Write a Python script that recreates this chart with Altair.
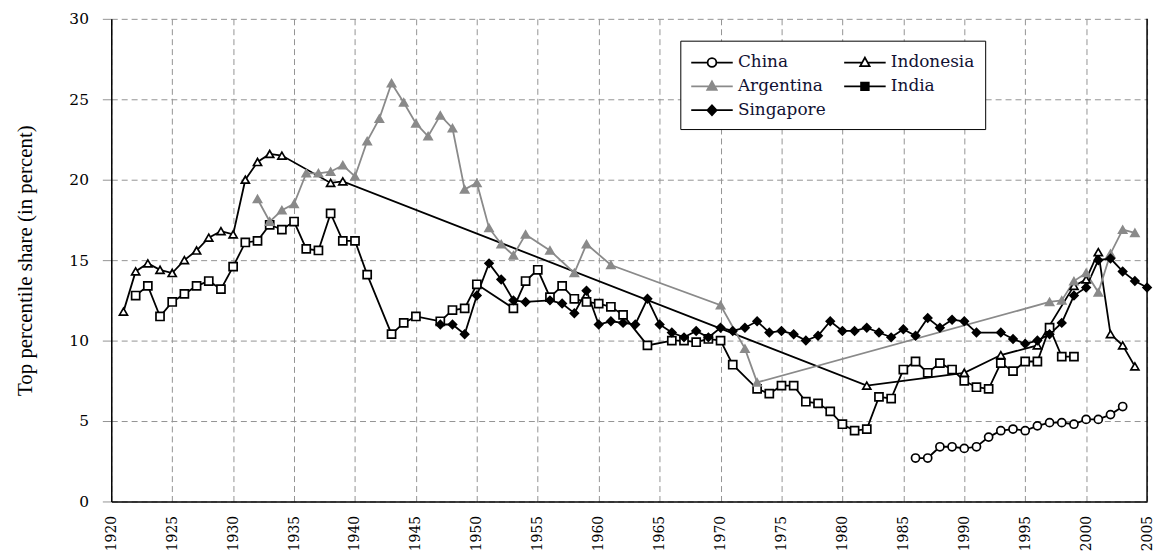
import altair as alt
import pandas as pd

# legend order: column 1 = China, Argentina, Singapore; column 2 = Indonesia, India
countries = ["China", "Argentina", "Singapore", "Indonesia", "India"]

china_years = [1986, 1987, 1988, 1989, 1990, 1991, 1992, 1993, 1994, 1995, 1996, 1997, 1998, 1999, 2000, 2001, 2002, 2003]
china_share = [2.7, 2.7, 3.4, 3.4, 3.3, 3.4, 4.0, 4.4, 4.5, 4.4, 4.7, 4.9, 4.9, 4.8, 5.1, 5.1, 5.4, 5.9]

indonesia_years = [1921, 1922, 1923, 1924, 1925, 1926, 1927, 1928, 1929, 1930, 1931, 1932, 1933, 1934,
                   1938, 1939, 1982, 1990, 1993, 1996, 1999, 2000, 2001, 2002, 2003, 2004]
indonesia_share = [11.8, 14.3, 14.8, 14.4, 14.2, 15.0, 15.6, 16.4, 16.8, 16.6, 20.0, 21.1, 21.6, 21.5,
                   19.8, 19.9, 7.2, 8.0, 9.1, 9.7, 13.4, 13.8, 15.5, 10.4, 9.7, 8.4]

argentina_years = [1932, 1933, 1934, 1935, 1936, 1937, 1938, 1939, 1940, 1941, 1942, 1943, 1944, 1945,
                   1946, 1947, 1948, 1949, 1950, 1951, 1952, 1953, 1954, 1956, 1958, 1959, 1961,
                   1970, 1972, 1973, 1997, 1998, 1999, 2000, 2001, 2002, 2003, 2004]
argentina_share = [18.8, 17.4, 18.1, 18.5, 20.4, 20.4, 20.5, 20.9, 20.2, 22.4, 23.8, 26.0, 24.8, 23.5,
                   22.7, 24.0, 23.2, 19.4, 19.8, 17.0, 16.0, 15.3, 16.6, 15.6, 14.2, 16.0, 14.7,
                   12.2, 9.5, 7.4, 12.4, 12.5, 13.7, 14.2, 13.0, 15.4, 16.9, 16.7]

india_years = [1922, 1923, 1924, 1925, 1926, 1927, 1928, 1929, 1930, 1931, 1932, 1933, 1934, 1935,
               1936, 1937, 1938, 1939, 1940, 1941, 1943, 1944, 1945, 1947, 1948, 1949, 1950, 1953,
               1954, 1955, 1956, 1957, 1958, 1959, 1960, 1961, 1962, 1964, 1966, 1967, 1968, 1969,
               1970, 1971, 1973, 1974, 1975, 1976, 1977, 1978, 1979, 1980, 1981, 1982, 1983, 1984,
               1985, 1986, 1987, 1988, 1989, 1990, 1991, 1992, 1993, 1994, 1995, 1996, 1997, 1998, 1999]
india_share = [12.8, 13.4, 11.5, 12.4, 12.9, 13.4, 13.7, 13.2, 14.6, 16.1, 16.2, 17.2, 16.9, 17.4,
               15.7, 15.6, 17.9, 16.2, 16.2, 14.1, 10.4, 11.1, 11.5, 11.2, 11.9, 12.0, 13.5, 12.0,
               13.7, 14.4, 12.7, 13.4, 12.6, 12.4, 12.3, 12.1, 11.6, 9.7, 10.0, 10.0, 9.9, 10.1,
               10.0, 8.5, 7.0, 6.7, 7.2, 7.2, 6.2, 6.1, 5.6, 4.8, 4.4, 4.5, 6.5, 6.4,
               8.2, 8.7, 8.0, 8.6, 8.2, 7.5, 7.1, 7.0, 8.6, 8.1, 8.7, 8.7, 10.8, 9.0, 9.0]

singapore_years = [1947, 1948, 1949, 1950, 1951, 1952, 1953, 1954, 1956, 1957, 1958, 1959, 1960, 1961,
                   1962, 1963, 1964, 1965, 1966, 1967, 1968, 1969, 1970, 1971, 1972, 1973, 1974, 1975,
                   1976, 1977, 1978, 1979, 1980, 1981, 1982, 1983, 1984, 1985, 1986, 1987, 1988, 1989,
                   1990, 1991, 1993, 1994, 1995, 1996, 1997, 1998, 1999, 2000, 2001, 2002, 2003, 2004, 2005]
singapore_share = [11.0, 11.0, 10.4, 12.8, 14.8, 13.8, 12.5, 12.4, 12.5, 12.3, 11.7, 13.1, 11.0, 11.2,
                   11.1, 11.0, 12.6, 11.0, 10.5, 10.2, 10.6, 10.2, 10.8, 10.6, 10.8, 11.2, 10.5, 10.6,
                   10.4, 10.0, 10.3, 11.2, 10.6, 10.6, 10.8, 10.5, 10.2, 10.7, 10.3, 11.4, 10.8, 11.3,
                   11.2, 10.5, 10.5, 10.1, 9.8, 10.0, 10.4, 11.1, 12.8, 13.3, 15.0, 15.1, 14.3, 13.7, 13.3]

x_ticks = [1920, 1925, 1930, 1935, 1940, 1945, 1950, 1955, 1960, 1965, 1970, 1975, 1980, 1985, 1990, 1995, 2000, 2005]
y_ticks = [0, 5, 10, 15, 20, 25, 30]

series = [
    ("Indonesia", indonesia_years, indonesia_share),
    ("India", india_years, india_share),
    ("Argentina", argentina_years, argentina_share),
    ("Singapore", singapore_years, singapore_share),
    ("China", china_years, china_share),
]
df = pd.concat(
    [pd.DataFrame({"country": n, "year": y, "share": v}) for n, y, v in series],
    ignore_index=True,
)

GRAY = "#8a8a8a"
# order follows `countries`: China, Argentina, Singapore, Indonesia, India
line_colors = ["#000000", GRAY, "#000000", "#000000", "#000000"]
chart_fills = ["#ffffff", GRAY, "#000000", "#ffffff", "#ffffff"]
legend_fills = ["#ffffff", GRAY, "#000000", "#ffffff", "#000000"]
chart_shapes = ["circle", "triangle-up", "diamond", "triangle-up", "square"]

tri_path = "M-1,0L0.66,0M1.14,0L2.8,0M0.9,-0.45L1.33,0.33L0.47,0.33Z"
legend_shapes = [
    "M-1,0L0.5,0M1.3,0L2.8,0M0.5,0A0.4,0.4 0 1,1 1.3,0A0.4,0.4 0 1,1 0.5,0Z",
    tri_path,
    "M-1,0L0.48,0M1.32,0L2.8,0M0.9,-0.45L1.32,0L0.9,0.45L0.48,0Z",
    tri_path,
    "M-1,0L0.55,0M1.25,0L2.8,0M0.55,-0.35L1.25,-0.35L1.25,0.35L0.55,0.35Z",
]

x_enc = alt.X(
    "year:Q",
    scale=alt.Scale(domain=[1920, 2005], nice=False, zero=False),
    axis=alt.Axis(values=x_ticks, format="d", labelAngle=270, title=None,
                  ticks=False, labelPadding=14, labelFontSize=14),
)
y_enc = alt.Y(
    "share:Q",
    scale=alt.Scale(domain=[0, 30], nice=False),
    axis=alt.Axis(values=y_ticks, title="Top percentile share (in percent)",
                  tickSize=9, labelPadding=14, titlePadding=34, labelFontSize=15.5),
)

base = alt.Chart(df)

lines = base.mark_line(strokeWidth=1.8).encode(
    x=x_enc,
    y=y_enc,
    stroke=alt.Stroke("country:N", scale=alt.Scale(domain=countries, range=line_colors), legend=None),
)

points = base.mark_point(opacity=1, strokeWidth=1.7, size=66).encode(
    x=x_enc,
    y=y_enc,
    shape=alt.Shape("country:N", scale=alt.Scale(domain=countries, range=chart_shapes), legend=None),
    fill=alt.Fill("country:N", scale=alt.Scale(domain=countries, range=chart_fills), legend=None),
    stroke=alt.Stroke("country:N", scale=alt.Scale(domain=countries, range=line_colors), legend=None),
)

leg = alt.Legend(
    title=None, orient="none", legendX=573, legendY=22, columns=2,
    symbolSize=484, symbolStrokeWidth=1.8, labelFont="DejaVu Serif", labelFontSize=17,
    labelColor="#111133", labelOffset=24, padding=10, rowPadding=4, columnPadding=14,
    strokeColor="black", fillColor="white", labelLimit=300,
)

legend_layer = base.transform_filter("datum.share < 0").mark_point(opacity=1, strokeWidth=1.8).encode(
    x=x_enc,
    y=y_enc,
    shape=alt.Shape("country:N", scale=alt.Scale(domain=countries, range=legend_shapes), legend=leg),
    fill=alt.Fill("country:N", scale=alt.Scale(domain=countries, range=legend_fills), legend=leg),
    stroke=alt.Stroke("country:N", scale=alt.Scale(domain=countries, range=line_colors), legend=leg),
)

right_border = base.transform_aggregate(n="count()").mark_rule(color="black", strokeWidth=1.5).encode(
    x=alt.datum(2005)
)

chart = (
    alt.layer(lines, points, legend_layer, right_border)
    .resolve_scale(shape="independent", fill="independent", stroke="independent")
    .properties(
        width=1043, height=486,
        autosize=alt.AutoSizeParams(type="none"),
        padding={"left": 104, "top": 9, "right": 8, "bottom": 52},
    )
    .configure_view(stroke=None)
    .configure_axis(
        domainColor="black", domainWidth=1.5,
        gridColor="#939393", gridDash=[6, 4], gridWidth=1,
        tickColor="#939393",
        labelFont="DejaVu Serif", labelColor="black",
        titleFont="Liberation Serif", titleFontSize=21, titleColor="black", titleFontWeight="normal",
    )
)

chart.save("out.html", embed_options={"renderer": "svg", "actions": False})
